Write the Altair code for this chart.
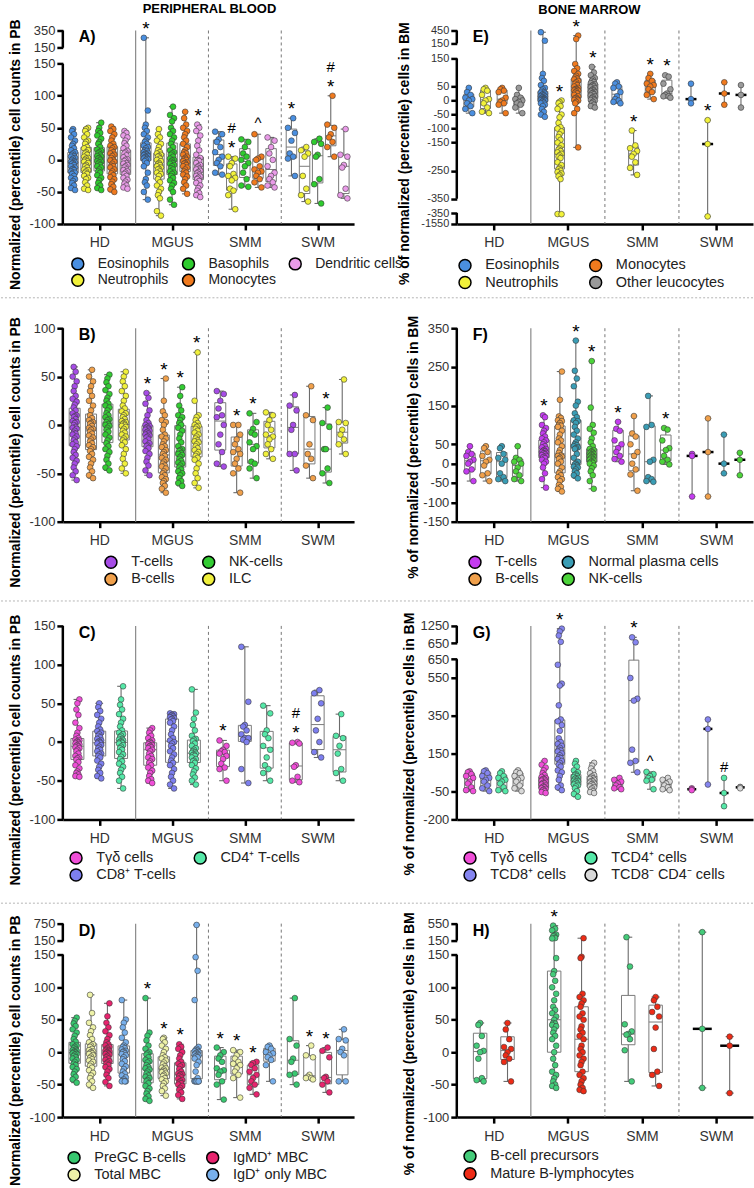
import altair as alt
import pandas as pd

GROUPS = ["HD", "MGUS", "SMM", "SWM"]
PLOT_H = 194
FONT = "Liberation Sans"

# ---------- A) peripheral blood, myeloid cells (HD, MGUS, SMM, SWM) ----------
A_EOS = [
    [48, 45, 40, 35, 30, 25, 22, 18, 15, 12, 10, 8, 6, 5, 3, 2, 0, -2, -3, -4, -5, -6, -8, -10, -12, -14, -15, -16, -18, -20, -20, -22, -25, -28, -30, -33, -36, -40, -44, -47],
    [265, 77, 55, 50, 45, 40, 35, 30, 28, 25, 22, 20, 18, 15, 14, 12, 11, 10, 9, 8, 7, 6, 5, 4, 3, 2, 1, 0, -2, -5, -10, -20, -30, -35, -40, -50, -62],
    [44, 40, 32, 28, 20, 12, 5, 0, -5, -10, -20, -23],
    [65, 50, 42, 30, 10, 5, 2, -25],
]
A_NEU = [
    [50, 48, 45, 40, 35, 30, 28, 25, 20, 18, 15, 12, 10, 8, 5, 3, 2, 0, -2, -3, -5, -8, -10, -12, -15, -16, -18, -20, -22, -25, -28, -30, -35, -40, -45, -47],
    [48, 40, 35, 30, 25, 20, 15, 12, 10, 8, 6, 5, 2, 0, -2, -5, -7, -8, -10, -12, -14, -15, -18, -20, -22, -25, -30, -35, -40, -45, -50, -55, -60, -80, -87],
    [5, 2, -5, -10, -22, -25, -28, -32, -45, -48, -55, -77],
    [20, 15, 10, 5, -25, -45, -55, -65],
]
A_BAS = [
    [58, 50, 45, 42, 38, 33, 28, 25, 20, 16, 14, 12, 10, 8, 6, 5, 3, 2, 0, -2, -3, -4, -6, -8, -10, -12, -15, -18, -20, -24, -28, -32, -36, -40, -44, -47],
    [83, 70, 65, 60, 50, 45, 40, 35, 30, 25, 20, 15, 12, 10, 8, 5, 2, 0, -1, -3, -5, -6, -8, -10, -13, -15, -18, -20, -22, -25, -28, -32, -36, -40, -45, -50, -62, -70],
    [32, 28, 20, 10, 5, 0, -5, -10, -20, -30, -40, -42],
    [33, 28, 25, 8, 5, -30, -38, -68],
]
A_MONO = [
    [52, 48, 45, 40, 35, 30, 25, 22, 20, 18, 15, 12, 10, 8, 6, 3, 0, -1, -3, -6, -9, -10, -12, -15, -18, -21, -24, -27, -30, -34, -38, -42, -46, -50],
    [75, 65, 55, 50, 45, 40, 35, 30, 25, 20, 15, 12, 10, 8, 5, 3, 1, 0, -2, -4, -5, -6, -8, -10, -12, -15, -18, -20, -23, -26, -30, -35, -40, -45, -53],
    [40, 5, 2, 0, -10, -15, -18, -20, -25, -30, -35, -43],
    [100, 55, 50, 40, 35, 28, 20, 5],
]
A_DC = [
    [45, 42, 38, 35, 30, 26, 22, 18, 14, 12, 10, 7, 4, 1, 0, -2, -5, -6, -8, -10, -12, -15, -16, -18, -20, -22, -25, -28, -31, -34, -37, -40, -43, -45],
    [55, 50, 45, 38, 30, 22, 15, 8, 3, 0, -1, -2, -5, -8, -10, -12, -14, -15, -17, -19, -21, -23, -25, -26, -28, -30, -33, -36, -40, -44, -48, -52, -55, -58],
    [35, 30, 20, 10, 0, -10, -20, -25, -30, -35, -40, -43],
    [48, 8, 5, -8, -12, -45, -55, -60],
]
A_SIG = [("MGUS", "Eosinophils", "*"), ("MGUS", "Dendritic cells", "*"),
         ("SMM", "Neutrophils", "*#"), ("SMM", "Monocytes", "^"),
         ("SWM", "Eosinophils", "*"), ("SWM", "Monocytes", "*#")]

# ---------- E) bone marrow, myeloid cells ----------
E_EOS = [
    [45, 30, 20, 10, 5, 0, -10, -20, -30, -45],
    [410, 213, 95, 80, 70, 55, 45, 40, 35, 30, 28, 25, 22, 20, 18, 15, 14, 12, 10, 8, 6, 5, 4, 3, 2, 1, 0, -2, -5, -8, -10, -15, -20, -30, -40, -50, -58],
    [65, 60, 50, 45, 30, 15, 5, 0, -5, -10],
    [60, 5, -10],
]
E_NEU = [
    [45, 40, 35, 20, 5, 0, -10, -25, -40, -45],
    [0, -5, -10, -20, -30, -50, -60, -80, -95, -100, -110, -120, -130, -140, -150, -160, -170, -175, -180, -185, -190, -195, -200, -205, -220, -230, -240, -245, -250, -255, -260, -265, -270, -280, -460, -480],
    [-107, -160, -170, -180, -190, -200, -220, -240, -265],
    [-70, -155, -725],
]
E_MONO = [
    [45, 40, 35, 30, 10, 0, -5, -10, -15, -45],
    [332, 252, 130, 115, 105, 95, 88, 82, 78, 75, 70, 65, 60, 55, 50, 45, 42, 40, 38, 36, 35, 32, 28, 25, 20, 15, 10, 8, 5, 2, 0, -5, -10, -30, -45, -167],
    [95, 80, 70, 60, 55, 50, 40, 30, 20, 5],
    [65, 25, -15],
]
E_OTH = [
    [45, 20, 10, 5, 0, -5, -10, -15, -25, -45],
    [120, 100, 90, 80, 75, 70, 66, 62, 58, 55, 52, 50, 47, 44, 40, 37, 35, 32, 30, 27, 25, 22, 18, 15, 12, 8, 5, 2, 0, -5, -10, -15, -20, -25],
    [90, 85, 60, 40, 25, 20, 15, 15, 10],
    [55, 20, -25],
]
E_SIG = [("MGUS", "Neutrophils", "*"), ("MGUS", "Monocytes", "*"), ("MGUS", "Other leucocytes", "*"),
         ("SMM", "Neutrophils", "*"), ("SMM", "Monocytes", "*"), ("SMM", "Other leucocytes", "*"),
         ("SWM", "Neutrophils", "*")]

# ---------- B) peripheral blood, lymphocytes ----------
B_T = [
    [60, 55, 50, 45, 40, 35, 30, 27, 24, 21, 18, 15, 12, 10, 9, 8, 6, 4, 3, 2, 0, -2, -3, -4, -6, -8, -9, -10, -12, -14, -16, -18, -20, -22, -25, -28, -31, -34, -37, -40, -44, -48, -52, -57],
    [33, 28, 22, 15, 10, 5, 2, 0, -1, -2, -3, -4, -5, -6, -7, -8, -9, -10, -11, -12, -13, -15, -17, -19, -21, -22, -24, -27, -30, -34, -38, -42, -47, -52],
    [35, 32, 25, 17, 10, 8, 0, -10, -20, -28, -40, -43],
    [31, 20, 15, 0, -5, -30, -30, -47],
]
B_B = [
    [57, 50, 45, 40, 35, 30, 25, 20, 15, 10, 7, 5, 3, 2, 1, -1, -3, -4, -5, -7, -9, -11, -13, -15, -17, -19, -21, -23, -25, -27, -30, -33, -36, -40, -44, -48, -52, -55],
    [48, 25, 14, 10, 5, 3, 0, -5, -10, -12, -14, -17, -20, -22, -23, -26, -28, -30, -32, -34, -36, -38, -40, -42, -43, -45, -48, -50, -52, -54, -56, -58, -60, -63, -66, -70],
    [0, 0, -10, -15, -20, -25, -28, -30, -35, -40, -45, -50, -70],
    [40, 10, 5, -20, -30, -35, -42, -55],
]
B_NK = [
    [52, 48, 44, 40, 36, 32, 28, 25, 22, 20, 18, 15, 12, 10, 8, 6, 5, 3, 1, 0, -1, -3, -5, -7, -10, -13, -16, -19, -22, -25, -28, -32, -36, -40, -44, -47],
    [39, 30, 20, 15, 10, 8, 5, 2, 0, -3, -6, -10, -14, -18, -22, -25, -26, -27, -29, -30, -31, -33, -35, -37, -39, -40, -42, -44, -46, -48, -50, -52, -55, -58, -60, -63],
    [12, 3, -4, -8, -10, -18, -22, -25, -38, -40, -45, -55],
    [18, 2, -2, -25, -25, -45, -50, -60],
]
B_ILC = [
    [55, 50, 45, 40, 35, 30, 25, 20, 17, 14, 12, 10, 8, 6, 4, 3, 2, 1, 0, -1, -2, -4, -6, -8, -10, -12, -14, -16, -18, -21, -25, -30, -35, -40, -45, -50],
    [75, 25, 10, 8, 5, 2, 0, -1, -2, -4, -6, -8, -10, -12, -14, -16, -17, -18, -20, -22, -24, -26, -28, -30, -32, -34, -36, -40, -45, -50, -55, -60, -65],
    [13, 10, 5, 0, -5, -10, -12, -15, -20, -25, -30, -35],
    [47, 3, 2, -5, -10, -15, -20, -30],
]
B_SIG = [("MGUS", "T-cells", "*"), ("MGUS", "B-cells", "*"), ("MGUS", "NK-cells", "*"), ("MGUS", "ILC", "*"),
         ("SMM", "B-cells", "*"), ("SMM", "NK-cells", "*"), ("SWM", "NK-cells", "*")]

# ---------- F) bone marrow, lymphocytes ----------
F_T = [
    [45, 30, 25, 20, 10, 5, 0, -15, -20, -45],
    [125, 120, 100, 92, 85, 78, 70, 65, 60, 55, 50, 45, 42, 38, 35, 33, 32, 30, 28, 27, 26, 24, 22, 20, 18, 16, 14, 10, 5, 0, -10, -25, -40, -62],
    [108, 90, 85, 60, 50, 40, 30, 20, 12, 5],
    [25, 20, -85],
]
F_B = [
    [45, 40, 30, 20, 10, 5, -5, -25, -30, -45],
    [238, 165, 122, 118, 112, 110, 105, 100, 98, 95, 85, 75, 65, 60, 55, 45, 35, 28, 22, 20, 18, 15, 12, 5, 0, -10, -20, -25, -30, -35, -40, -45, -55, -60, -65, -72],
    [123, 78, 70, 50, 30, 20, 0, -15, -28, -70],
    [117, 30, -85],
]
F_NPC = [
    [45, 40, 25, 15, 10, 0, -25, -35, -40, -45],
    [318, 240, 220, 200, 160, 150, 130, 120, 112, 110, 105, 95, 85, 75, 65, 55, 50, 48, 45, 42, 40, 38, 25, 15, 5, 0, -2, -5, -8, -10, -15, -20, -25, -30, -38],
    [175, 100, 95, 10, 5, -35, -40, -45, -47],
    [75, 0, -25],
]
F_NK = [
    [45, 15, 10, 5, 0, -10, -20, -30, -40, -45],
    [265, 145, 100, 90, 80, 65, 55, 45, 38, 35, 32, 30, 28, 26, 25, 24, 22, 20, 18, 17, 16, 14, 12, 10, 8, 6, 4, 2, 0, -5, -12, -20, -30, -45, -65],
    [92, 88, 60, 40, 35, 20, 10, 5, -2],
    [28, 10, -30],
]
F_SIG = [("MGUS", "T-cells", "*"), ("MGUS", "Normal plasma cells", "*"), ("MGUS", "NK-cells", "*"),
         ("SMM", "T-cells", "*"), ("SMM", "NK-cells", "*")]

# ---------- C) peripheral blood, T-cell subsets ----------
C_GD = [
    [55, 50, 42, 35, 25, 18, 12, 8, 5, 3, 2, 1, 0, -1, -2, -3, -4, -5, -6, -7, -8, -10, -12, -15, -18, -20, -21, -23, -26, -30, -34, -38, -40, -42, -44, -45],
    [18, 15, 12, 8, 5, 2, 0, -1, -2, -3, -4, -5, -6, -7, -8, -10, -12, -15, -18, -20, -22, -25, -27, -30, -33, -37, -40, -44, -48, -50, -53],
    [2, -5, -10, -12, -13, -15, -18, -22, -28, -33, -35, -50],
    [0, -1, -2, -30, -32, -45, -50, -52],
]
C_CD8 = [
    [50, 45, 40, 35, 30, 25, 20, 16, 14, 12, 10, 8, 6, 4, 2, 1, 0, -1, -2, -4, -6, -8, -10, -12, -15, -16, -18, -20, -24, -28, -32, -36, -40, -44, -47],
    [37, 36, 35, 34, 33, 32, 31, 30, 29, 27, 25, 20, 15, 10, 5, 2, 0, -2, -5, -8, -12, -16, -20, -24, -27, -30, -35, -40, -45, -50, -55, -60],
    [123, 52, 22, 20, 15, 10, 5, 5, 3, 0, -35, -53],
    [67, 63, 50, 30, 15, 0, -13, -20],
]
C_CD4 = [
    [72, 55, 48, 42, 36, 30, 25, 20, 15, 12, 10, 8, 6, 4, 3, 2, 1, 0, -1, -2, -4, -6, -8, -10, -13, -16, -19, -22, -25, -28, -32, -36, -40, -45, -50, -60],
    [68, 38, 30, 22, 15, 8, 4, 3, 1, -2, -5, -8, -10, -12, -13, -14, -15, -16, -17, -18, -20, -22, -24, -25, -27, -30, -34, -38, -42, -46, -50, -55],
    [47, 37, 15, 10, 5, -5, -10, -20, -30, -35, -40, -50],
    [36, 8, 5, -5, -15, -35, -40, -50],
]
C_SIG = [("SMM", "Tγδ cells", "*"), ("SWM", "Tγδ cells", "*#")]

# ---------- G) bone marrow, T-cell subsets ----------
G_GD = [
    [55, 50, 40, 30, 20, 0, -10, -30, -45, -50],
    [110, 90, 75, 60, 45, 35, 25, 20, 15, 12, 10, 5, 0, -5, -8, -10, -15, -20, -25, -28, -30, -35, -38, -42, -46, -50, -55, -60],
    [20, 10, 0, -10, -20, -30, -35, -40],
    [-35, -40, -45],
]
G_CD8 = [
    [60, 55, 45, 30, 20, 10, 0, -20, -35, -50],
    [1154, 1058, 914, 698, 620, 520, 510, 405, 330, 320, 300, 270, 230, 210, 200, 190, 180, 170, 165, 160, 150, 140, 130, 125, 120, 110, 100, 90, 80, 60, 50, 30, 10, -20, -30, -45],
    [854, 680, 550, 440, 430, 170, 110, 100, 50],
    [330, 280, -15],
]
G_CD4 = [
    [55, 45, 30, 20, 10, 0, -10, -30, -45, -50],
    [110, 95, 80, 60, 50, 40, 35, 30, 25, 20, 18, 15, 10, 5, 2, 0, -5, -10, -15, -20, -25, -35, -50, -65, -80],
    [52, 40, 30, 20, 10, 5, -40],
    [20, -60, -130],
]
G_DN = [
    [60, 50, 45, 30, 20, 10, 0, -20, -35, -50],
    [100, 85, 70, 55, 45, 35, 28, 22, 18, 15, 10, 5, 3, 0, -5, -10, -12, -15, -20, -25, -30, -35, -42, -50, -55, -60],
    [20, 10, 0, -10, -20, -30, -40, -45],
    [-28, -30, -35],
]
G_SIG = [("MGUS", "TCD8⁺ cells", "*"), ("SMM", "TCD8⁺ cells", "*"),
         ("SMM", "TCD4⁺ cells", "^"), ("SWM", "TCD4⁺ cells", "#")]

# ---------- D) peripheral blood, B-cell subsets ----------
D_PRE = [
    [53, 48, 44, 40, 35, 30, 25, 20, 16, 12, 10, 8, 6, 4, 3, 2, 1, 0, -1, -2, -3, -4, -6, -8, -10, -12, -15, -18, -20, -23, -26, -30, -34, -38, -42, -47],
    [83, 30, 25, 18, 10, 5, 0, -2, -4, -8, -12, -14, -16, -20, -23, -25, -27, -30, -33, -36, -38, -40, -43, -45, -48, -52, -56, -60, -64, -68, -72, -75],
    [7, 0, -5, -10, -15, -25, -28, -30, -35, -45, -50, -73],
    [83, 20, 10, -10, -15, -33, -35, -50],
]
D_TOT = [
    [88, 60, 45, 38, 32, 26, 20, 15, 12, 10, 8, 5, 3, 1, 0, -1, -2, -3, -5, -7, -9, -11, -13, -15, -18, -21, -24, -28, -32, -36, -40, -45, -50, -55],
    [22, 20, 15, 10, 5, 0, -5, -8, -10, -13, -16, -19, -22, -24, -25, -27, -29, -30, -31, -33, -35, -37, -40, -42, -45, -48, -52, -56, -60, -67],
    [3, 0, -5, -10, -15, -18, -20, -25, -30, -35, -40, -70],
    [10, -5, -8, -35, -38, -40, -40, -42],
]
D_IGMD = [
    [75, 55, 45, 38, 32, 26, 20, 15, 12, 10, 8, 6, 4, 3, 2, 1, 0, -1, -2, -3, -4, -6, -8, -10, -12, -14, -16, -18, -20, -23, -26, -30, -35, -40, -46, -52],
    [12, 8, 5, 0, -5, -10, -15, -18, -20, -22, -26, -30, -33, -34, -35, -37, -39, -41, -43, -45, -47, -48, -50, -52, -55, -58, -62, -66, -72],
    [-15, -17, -20, -25, -30, -35, -40, -45, -50, -55, -65],
    [7, 2, -8, -38, -40, -45, -50, -62],
]
D_IGD = [
    [80, 50, 45, 38, 30, 22, 15, 10, 8, 6, 4, 2, 1, 0, -2, -3, -5, -8, -11, -14, -18, -22, -26, -30, -33, -36, -39, -42, -44, -45, -45, -45],
    [704, 146, 125, 80, 8, 5, 3, 2, 1, 0, -1, -2, -3, -4, -5, -6, -7, -8, -10, -15, -20, -30, -40, -44, -45, -45, -45, -45, -45, -45],
    [10, 8, 5, 0, -2, -5, -8, -12, -20, -45],
    [35, 20, 18, 5, 0, -5, -45, -45],
]
D_SIG = [("MGUS", "PreGC B-cells", "*"), ("MGUS", "Total MBC", "*"), ("MGUS", "IgMD⁺ MBC", "*"),
         ("SMM", "PreGC B-cells", "*"), ("SMM", "Total MBC", "*"), ("SMM", "IgMD⁺ MBC", "*"),
         ("SWM", "Total MBC", "*"), ("SWM", "IgMD⁺ MBC", "*")]

# ---------- H) bone marrow, B-cell compartments ----------
H_PRE = [
    [45, 42, 25, 10, 2, 0, -10, -40, -43, -45],
    [502, 430, 390, 290, 270, 250, 210, 200, 145, 125, 120, 110, 100, 90, 80, 70, 65, 60, 55, 50, 45, 44, 42, 40, 35, 30, 25, 20, 10, 0, -10, -20, -30, -35, -40, -45, -50, -52, -55],
    [230, 132, 43, 32, 28, 27, 20, 3, -45],
    [349, 36, -55],
]
H_MAT = [
    [45, 35, 20, 8, 5, 0, -5, -10, -15, -45],
    [206, 147, 145, 90, 85, 80, 75, 70, 60, 55, 50, 40, 35, 30, 25, 20, 10, 5, 0, -5, -10, -15, -20, -30, -35, -40, -45, -50, -55, -58, -60],
    [85, 80, 70, 62, 55, 38, 5, -30, -35, -52],
    [24, 10, -63],
]
H_SIG = [("MGUS", "B-cell precursors", "*")]

PB_TITLE = "Normalized (percentile) cell counts in PB"
BM_TITLE = "% of normalized (percentile) cells in BM"


def lin_expr(seg, field="datum.v"):
    v0, v1, p0, p1 = seg
    k = (p1 - p0) / (v1 - v0)
    return f"({p0} + ({field} - ({v0})) * {k:.7f})"


def break_expr(segs):
    # piecewise-linear y mapping for broken axes
    expr = lin_expr(segs[-1])
    for seg in reversed(segs[:-1]):
        expr = f"(datum.v <= {seg[1]} ? {lin_expr(seg)} : {expr})"
    return expr


def seg_pos(segs, value, idx):
    v0, v1, p0, p1 = segs[idx]
    return p0 + (value - v0) * (p1 - p0) / (v1 - v0)


def quart_expr(p):
    return (f"(datum.rk == floor(datum.{p}) ? (1 - datum.{p} + floor(datum.{p})) * datum.d : 0)"
            f" + (datum.rk == floor(datum.{p}) + 1 ? (datum.{p} - floor(datum.{p})) * datum.d : 0)")


def panel(cfg):
    names, series, colors = cfg["names"], cfg["series"], cfg["colors"]
    nt = len(names)
    W = cfg["width"]
    gw = W / 4.0
    segs = cfg["segs"]

    rows = []
    for ci, (name, groups) in enumerate(zip(names, series)):
        for gi, vals in enumerate(groups):
            for v in vals:
                rows.append({"gi": gi, "ci": ci, "cell": name, "v": v})
    df = pd.DataFrame(rows)

    sig_rows = []
    for grp, name, sym in cfg["sig"]:
        key = GROUPS.index(grp) * 10 + names.index(name)
        sig_rows.append({"key": key, "s0": sym[0], "s1": sym[1] if len(sym) > 1 else ""})
    sig_df = pd.DataFrame(sig_rows)

    tick_list = [(round(seg_pos(segs, v, i), 4), str(v)) for v, i in cfg["ticks"]]
    lab = "''"
    for pos, txt in reversed(tick_list):
        lab = f"(abs(datum.value - {pos}) < 0.01 ? '{txt}' : {lab})"

    xscale = alt.Scale(domain=[0, 4], nice=False, zero=False)
    yscale = alt.Scale(domain=[0, PLOT_H], nice=False, zero=False)

    xaxis = alt.Axis(
        values=[0.5, 1.5, 2.5, 3.5],
        labelExpr="[" + ",".join(f"'{g}'" for g in GROUPS) + "][floor(datum.value)]",
        title=None, grid=False, domainColor="black", domainWidth=2.5,
        tickColor="black", tickWidth=2.5, tickSize=6, labelFontSize=14,
        labelColor="#333333", labelPadding=6,
    )
    yaxis = alt.Axis(
        values=[p for p, _ in tick_list], labelExpr=lab, domain=False, grid=False,
        tickColor="black", tickWidth=2.5, tickSize=6, labelFontSize=cfg.get("yfs", 13),
        labelColor="#333333", labelPadding=2, labelOverlap=False, labelFlush=False,
        title=cfg["title"], titleFontSize=14, titleFontWeight="bold", titleColor="black",
        titleX=cfg["tx"], titleY=cfg["ty"], titleAngle=270, titleAlign="center",
        titleBaseline="middle",
    )

    def X(f):
        return alt.X(f"{f}:Q", scale=xscale, axis=xaxis)

    def Y(f):
        return alt.Y(f"{f}:Q", scale=yscale, axis=yaxis)

    # legend entries fill row by row
    legend = alt.Legend(
        orient="none", legendX=cfg["lx"], legendY=cfg["ly"], columns=cfg["lcols"],
        direction="horizontal",
        title=None, symbolType="circle", symbolSize=144, symbolStrokeColor="black",
        symbolStrokeWidth=1.5, labelFontSize=cfg.get("lfs", 14.5), labelColor="#222222",
        labelOffset=13, columnPadding=cfg["lpad"], rowPadding=-1.5, padding=0,
        labelLimit=400, gridAlign="each",
    )
    order = cfg["legend_order"]

    base = alt.Chart(df).transform_calculate(
        d=break_expr(segs),
        cx=f"datum.gi + 0.5 + (datum.ci - {(nt - 1) / 2}) * {cfg['sp']}",
    ).transform_window(
        rk="row_number()", groupby=["gi", "ci"], sort=[alt.SortField("v", order="ascending")]
    ).transform_joinaggregate(cnt="count()", groupby=["gi", "ci"])

    pts = base.transform_calculate(
        amp="datum.cnt >= 25 ? 2 : (datum.cnt >= 5 ? 3.5 : 0)"
    ).transform_calculate(
        xp=f"datum.cx + [0, 1, -1, 0.5, -0.5][datum.rk % 5] * datum.amp / {gw}"
    ).mark_circle(size=33, opacity=1, stroke="#3a3a3a", strokeWidth=0.6).encode(
        x=X("xp"),
        y=Y("d"),
        color=alt.Color("cell:N", scale=alt.Scale(
            domain=order, range=[colors[names.index(n)] for n in order]), legend=legend),
    )

    hb = cfg["boxw"] / 2 / gw
    hm = cfg["medw"] / 2 / gw
    hc = cfg["boxw"] * 0.3 / gw
    stats = base.transform_calculate(
        p1="0.25 * (datum.cnt + 1)", p3="0.75 * (datum.cnt + 1)"
    ).transform_calculate(
        c1=quart_expr("p1"), c3=quart_expr("p3")
    ).transform_aggregate(
        q1="sum(c1)", q3="sum(c3)", med="median(d)", lo="min(d)", hi="max(d)", nn="max(cnt)",
        groupby=["gi", "ci", "cx"],
    ).transform_calculate(
        x0=f"datum.cx - {hb}", x1=f"datum.cx + {hb}",
        m0=f"datum.cx - {hm}", m1=f"datum.cx + {hm}",
        k0=f"datum.cx - {hc}", k1=f"datum.cx + {hc}",
        key="datum.gi * 10 + datum.ci",
    )

    whisk = stats.mark_rule(color="#6b6b6b", strokeWidth=1.1).encode(
        x=X("cx"), y=Y("lo"), y2="hi")
    cap_hi = stats.mark_rule(color="#6b6b6b", strokeWidth=1.1).encode(
        x=X("k0"), x2="k1", y=Y("hi"))
    cap_lo = stats.mark_rule(color="#6b6b6b", strokeWidth=1.1).encode(
        x=X("k0"), x2="k1", y=Y("lo"))
    box = stats.transform_filter("datum.nn >= 4").mark_rect(
        fill="white", stroke="#7a7a7a", strokeWidth=1).encode(
        x=X("x0"), x2="x1", y=Y("q1"), y2="q3")
    med_box = stats.transform_filter("datum.nn >= 4").mark_rule(
        color="#7a7a7a", strokeWidth=1).encode(x=X("x0"), x2="x1", y=Y("med"))
    med_small = stats.transform_filter("datum.nn < 4").mark_rule(
        color="black", strokeWidth=2.5).encode(x=X("m0"), x2="m1", y=Y("med"))

    ann = stats.transform_lookup(
        lookup="key", from_=alt.LookupData(sig_df, "key", ["s0", "s1"])
    ).transform_filter("isValid(datum.s0)")
    star = ann.transform_filter("datum.s0 == '*'").mark_text(
        baseline="alphabetic", dy=-3, fontSize=19, color="black").encode(
        x=X("cx"), y=Y("hi"), text="s0:N")
    other = ann.transform_filter("datum.s0 != '*'").mark_text(
        baseline="alphabetic", dy=-6, fontSize=15, color="black").encode(
        x=X("cx"), y=Y("hi"), text="s0:N")
    upper = ann.transform_filter("datum.s1 != ''").mark_text(
        baseline="alphabetic", dy=-24, fontSize=15, color="black").encode(
        x=X("cx"), y=Y("hi"), text="s1:N")

    sep_df = pd.DataFrame({"xs": [1, 2, 3]})
    sep_solid = alt.Chart(sep_df).transform_filter("datum.xs == 1").mark_rule(
        color="#8a8a8a", strokeWidth=1.2).encode(
        x=X("xs"), y=alt.value(0), y2=alt.value(PLOT_H))
    sep_dash = alt.Chart(sep_df).transform_filter("datum.xs > 1").mark_rule(
        color="#777777", strokeWidth=1, strokeDash=[3, 3]).encode(
        x=X("xs"), y=alt.value(0), y2=alt.value(PLOT_H))

    axis_df = pd.DataFrame({"p0": [s[2] for s in segs], "p1": [s[3] for s in segs]})
    yline = alt.Chart(axis_df).mark_rule(color="black", strokeWidth=2.5).encode(
        x=alt.value(0), y=Y("p0"), y2="p1")

    letter = alt.Chart(pd.DataFrame({"t": [cfg["letter"] + ")"]})).mark_text(
        align="left", baseline="middle", fontSize=16, fontWeight="bold", color="black"
    ).encode(x=alt.value(16), y=alt.value(7), text="t:N")

    layers = [sep_solid, sep_dash, whisk, cap_hi, cap_lo, box, med_box, med_small,
              pts, star, other, upper, yline, letter]

    if cfg.get("head"):
        txt, hx, hy = cfg["head"]
        layers.append(alt.Chart(pd.DataFrame({"t": [txt]})).mark_text(
            align="center", baseline="middle", fontSize=13, fontWeight="bold", color="black"
        ).encode(x=alt.value(hx), y=alt.value(hy), text="t:N"))
    if cfg.get("anchor"):
        layers.append(alt.Chart(pd.DataFrame({"a": [0]})).mark_rule(
            color="white", strokeWidth=1).encode(
            x=alt.value(-62), x2=alt.value(-50), y=alt.value(-28.5)))
    if cfg.get("rowsep") is not None:
        layers.append(alt.Chart(pd.DataFrame({"a": [0]})).mark_rule(
            color="#b5b5b5", strokeWidth=1, strokeDash=[2, 2]).encode(
            x=alt.value(-62), x2=alt.value(692), y=alt.value(cfg["rowsep"])))

    return alt.layer(*layers).properties(width=W, height=PLOT_H)


WL, WR = 292, 297

A = panel(dict(
    letter="A", names=["Eosinophils", "Neutrophils", "Basophils", "Monocytes", "Dendritic cells"],
    series=[A_EOS, A_NEU, A_BAS, A_MONO, A_DC],
    colors=["#4a8fe0", "#f2f23a", "#2ecc2e", "#f07a1e", "#e99be8"],
    legend_order=["Eosinophils", "Basophils", "Dendritic cells", "Neutrophils", "Monocytes"],
    segs=[(-100, 150, 0, 160.7), (150, 350, 176.7, 194)],
    ticks=[(-100, 0), (-50, 0), (0, 0), (50, 0), (100, 0), (150, 0), (150, 1), (350, 1)],
    width=WL, sp=0.18, boxw=10.5, medw=10, sig=A_SIG, title=PB_TITLE, tx=-47, ty=124,
    lx=8, ly=227, lcols=3, lpad=10, lfs=14, head=("PERIPHERAL BLOOD", 147, -22), anchor=True,
))
E = panel(dict(
    letter="E", names=["Eosinophils", "Neutrophils", "Monocytes", "Other leucocytes"],
    series=[E_EOS, E_NEU, E_MONO, E_OTH],
    colors=["#4a8fe0", "#f2f23a", "#f07a1e", "#9a9a9a"],
    legend_order=["Eosinophils", "Monocytes", "Neutrophils", "Other leucocytes"],
    segs=[(-1550, -350, 0, 11), (-350, 150, 25.3, 166), (150, 450, 181, 194)],
    ticks=[(-1550, 0), (-350, 0), (-350, 1), (-250, 1), (-150, 1), (-100, 1), (-50, 1),
           (0, 1), (50, 1), (150, 1), (150, 2), (450, 2)],
    width=WR, sp=0.225, boxw=10, medw=11, sig=E_SIG, title=BM_TITLE, tx=-52, ty=123,
    lx=1, ly=228, lcols=2, lpad=27, head=("BONE MARROW", 133, -21), yfs=11,
))
B = panel(dict(
    letter="B", names=["T-cells", "B-cells", "NK-cells", "ILC"],
    series=[B_T, B_B, B_NK, B_ILC],
    colors=["#a64ce6", "#f0a04b", "#33cc33", "#f0f03c"],
    legend_order=["T-cells", "NK-cells", "B-cells", "ILC"],
    segs=[(-100, 100, 0, 194)],
    ticks=[(-100, 0), (-50, 0), (0, 0), (50, 0), (100, 0)],
    width=WL, sp=0.225, boxw=11, medw=11, sig=B_SIG, title=PB_TITLE, tx=-47, ty=124,
    lx=41, ly=227, lcols=2, lpad=24, rowsep=-30.5,
))
F = panel(dict(
    letter="F", names=["T-cells", "B-cells", "Normal plasma cells", "NK-cells"],
    series=[F_T, F_B, F_NPC, F_NK],
    colors=["#c43cf0", "#f0a04b", "#3a9db5", "#4cd43a"],
    legend_order=["T-cells", "Normal plasma cells", "B-cells", "NK-cells"],
    segs=[(-150, 350, 0, 194)],
    ticks=[(-150, 0), (-100, 0), (-50, 0), (0, 0), (50, 0), (150, 0), (250, 0), (350, 0)],
    width=WR, sp=0.215, boxw=10.5, medw=11, sig=F_SIG, title=BM_TITLE, tx=-43, ty=119,
    lx=11, ly=227, lcols=2, lpad=19.5,
))
C = panel(dict(
    letter="C", names=["Tγδ cells", "CD8⁺ T-cells", "CD4⁺ T-cells"],
    series=[C_GD, C_CD8, C_CD4],
    colors=["#f04ed8", "#7d7ff0", "#55e8a8"],
    legend_order=["Tγδ cells", "CD4⁺ T-cells", "CD8⁺ T-cells"],
    segs=[(-100, 150, 0, 194)],
    ticks=[(-100, 0), (-50, 0), (0, 0), (50, 0), (100, 0), (150, 0)],
    width=WL, sp=0.3, boxw=13, medw=13, sig=C_SIG, title=PB_TITLE, tx=-47, ty=124,
    lx=6, ly=225, lcols=2, lpad=14.5, rowsep=-25,
))
G = panel(dict(
    letter="G", names=["Tγδ cells", "TCD8⁺ cells", "TCD4⁺ cells", "TCD8⁻ CD4⁻ cells"],
    series=[G_GD, G_CD8, G_CD4, G_DN],
    colors=["#f04ed8", "#8585f0", "#55e8a8", "#d8d8d8"],
    legend_order=["Tγδ cells", "TCD4⁺ cells", "TCD8⁺ cells", "TCD8⁻ CD4⁻ cells"],
    segs=[(-200, 650, 0, 160.7), (650, 1250, 176.7, 194)],
    ticks=[(-200, 0), (-50, 0), (150, 0), (350, 0), (550, 0), (650, 0), (650, 1), (1250, 1)],
    width=WR, sp=0.218, boxw=10, medw=9, sig=G_SIG, title=BM_TITLE, tx=-47, ty=118,
    lx=6, ly=225, lcols=2, lpad=15.3,
))
D = panel(dict(
    letter="D", names=["PreGC B-cells", "Total MBC", "IgMD⁺ MBC", "IgD⁺ only MBC"],
    series=[D_PRE, D_TOT, D_IGMD, D_IGD],
    colors=["#38c870", "#eef2a8", "#e8246e", "#78b0ec"],
    legend_order=["PreGC B-cells", "IgMD⁺ MBC", "Total MBC", "IgD⁺ only MBC"],
    segs=[(-100, 150, 0, 163), (150, 750, 176.7, 194)],
    ticks=[(-100, 0), (-50, 0), (0, 0), (50, 0), (100, 0), (150, 0), (150, 1), (750, 1)],
    width=WL, sp=0.225, boxw=11.5, medw=11, sig=D_SIG, title=PB_TITLE, tx=-47, ty=127,
    lx=4, ly=227, lcols=2, lpad=17, rowsep=-20.5,
))
H = panel(dict(
    letter="H", names=["B-cell precursors", "Mature B-lymphocytes"],
    series=[H_PRE, H_MAT],
    colors=["#44cc7a", "#ee2b16"],
    legend_order=["B-cell precursors", "Mature B-lymphocytes"],
    segs=[(-100, 150, 0, 162.7), (150, 550, 177, 194)],
    ticks=[(-100, 0), (-50, 0), (0, 0), (50, 0), (100, 0), (150, 0), (150, 1), (550, 1)],
    width=WR, sp=0.37, boxw=13.5, medw=19, sig=H_SIG, title=BM_TITLE, tx=-47, ty=120,
    lx=6, ly=226, lcols=1, lpad=10,
))

chart = alt.concat(
    A, E, B, F, C, G, D, H,
    columns=2, spacing={"row": 104.5, "column": 103}, bounds="flush",
).resolve_scale(
    x="independent", y="independent", color="independent"
).resolve_legend(color="independent").properties(
    padding={"left": 0, "top": 0, "right": 0, "bottom": 0}
).configure(font=FONT).configure_view(stroke=None)

chart.save("out.html", embed_options={"renderer": "svg", "actions": False})
